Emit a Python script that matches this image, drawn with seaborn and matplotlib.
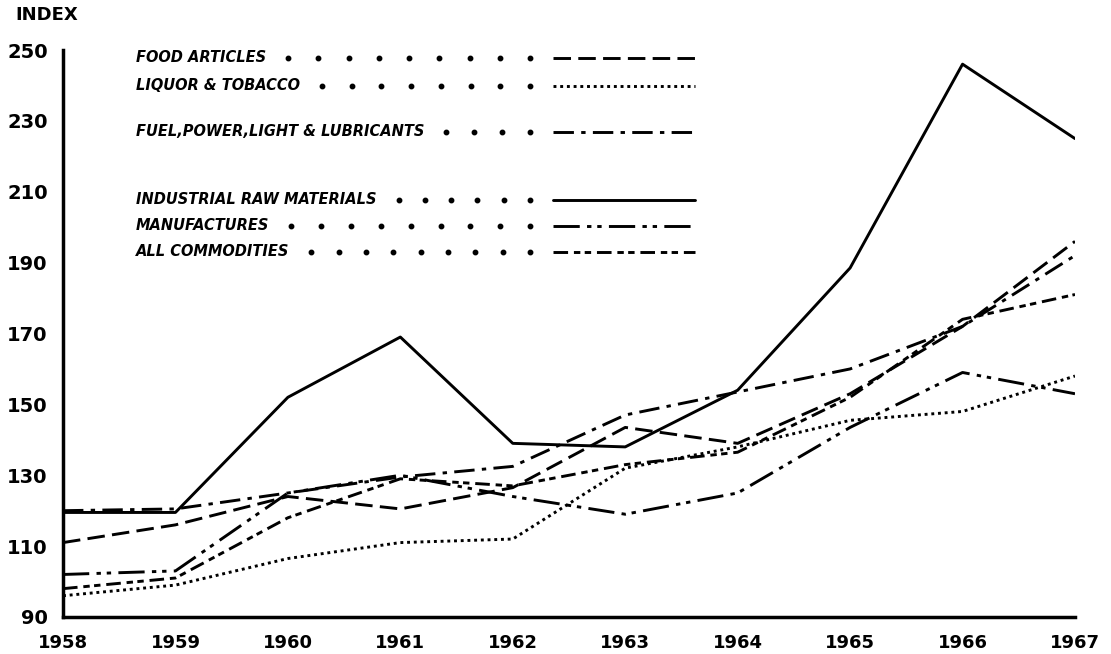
import numpy as np
import pandas as pd
import matplotlib
matplotlib.use("Agg")
import matplotlib.pyplot as plt
import seaborn as sns

# Wholesale price index by commodity group, 1958-1967
years = list(range(1958, 1968))
food_articles = [111, 116, 124, 120.5, 126.5, 143.5, 139, 153, 172, 196]
liquor_tobacco = [96, 99, 106.5, 111, 112, 132, 138, 145.5, 148, 158]
fuel_power = [120, 120.5, 125, 129.5, 132.5, 147, 153.5, 160, 172, 192]
industrial_raw = [119.5, 119.5, 152, 169, 139, 138, 154, 188.5, 246, 225]
manufactures = [102, 103, 125, 130, 124, 119, 125, 143.5, 159, 153]
all_commodities = [98, 101, 118, 129, 127, 133, 136.5, 152, 174, 181]

series_names = [
    "FOOD ARTICLES",
    "LIQUOR & TOBACCO",
    "FUEL,POWER,LIGHT & LUBRICANTS",
    "INDUSTRIAL RAW MATERIALS",
    "MANUFACTURES",
    "ALL COMMODITIES",
]
series_values = [food_articles, liquor_tobacco, fuel_power,
                 industrial_raw, manufactures, all_commodities]
y_ticks = [90, 110, 130, 150, 170, 190, 210, 230, 250]

df = pd.DataFrame({
    "year": years * len(series_names),
    "index": np.concatenate(series_values),
    "series": np.repeat(series_names, len(years)),
})

line_dashes = {
    "FOOD ARTICLES": (6, 2.5),
    "LIQUOR & TOBACCO": (1, 1.3),
    "FUEL,POWER,LIGHT & LUBRICANTS": (7, 2.5, 1.5, 2.5),
    "INDUSTRIAL RAW MATERIALS": "",
    "MANUFACTURES": (9, 2.5, 1.5, 2, 1.5, 2.5),
    "ALL COMMODITIES": (5, 2, 2.2, 1.5, 2.2, 2),
}

sns.set_theme(style="white")
plt.rcParams["font.family"] = ["DejaVu Sans"]
plt.rcParams["text.color"] = "black"
plt.rcParams["xtick.color"] = "black"
plt.rcParams["ytick.color"] = "black"

fig = plt.figure(figsize=(11.11, 6.54), dpi=100)
ax = fig.add_axes([63 / 1111, 37 / 654, 1012 / 1111, 567 / 654])

sns.lineplot(data=df, x="year", y="index", style="series", dashes=line_dashes,
             color="black", linewidth=2.1, legend=False, ax=ax,
             estimator=None, sort=False)

ax.set_xlim(1958, 1967)
ax.set_ylim(90, 250)
ax.set_xticks(years)
ax.set_yticks(y_ticks)
ax.set_xticklabels([str(y) for y in years], fontweight="bold", fontsize=13)
ax.set_yticklabels([str(v) for v in y_ticks], fontweight="bold", fontsize=14)
ax.set_xlabel("")
ax.set_ylabel("")
ax.tick_params(axis="y", direction="in", length=10, width=2, pad=11, colors="black")
ax.tick_params(axis="x", direction="in", length=9, width=2, pad=12, colors="black")
for side in ("top", "right"):
    ax.spines[side].set_visible(False)
for side in ("left", "bottom"):
    ax.spines[side].set_linewidth(2.5)
    ax.spines[side].set_color("black")

fig.text(15 / 1111, 1 - 15 / 654, "INDEX", fontweight="bold", fontsize=13,
         ha="left", va="center", color="black")

# Key: label, dotted leader and a line sample per series
def fx(px):
    return (px - 63) / 1012

def fy(py):
    return (617 - py) / 567

key_rows = [58, 86, 132, 200, 226, 252]
sample_x0, sample_x1 = 553, 695
leader_end = 530

labels = []
for name, row in zip(series_names, key_rows):
    t = ax.text(fx(136), fy(row), name, transform=ax.transAxes,
                fontweight="bold", fontstyle="italic", fontsize=10.5,
                ha="left", va="center", color="black")
    labels.append(t)

fig.canvas.draw()
renderer = fig.canvas.get_renderer()

for name, row, t in zip(series_names, key_rows, labels):
    tend = t.get_window_extent(renderer).x1
    start = tend + 22
    n_dots = max(2, int(round((leader_end - start) / 29)) + 1)
    dots_x = np.linspace(start, leader_end, n_dots)
    ax.plot([fx(v) for v in dots_x], [fy(row)] * len(dots_x), "o",
            color="black", markersize=3.2, transform=ax.transAxes, clip_on=False)
    sample = ax.plot([fx(sample_x0), fx(sample_x1)], [fy(row), fy(row)],
                     color="black", linewidth=2.1, transform=ax.transAxes,
                     clip_on=False)[0]
    if line_dashes[name]:
        sample.set_dashes(line_dashes[name])

fig.savefig("out.png", dpi=100, facecolor="white")
